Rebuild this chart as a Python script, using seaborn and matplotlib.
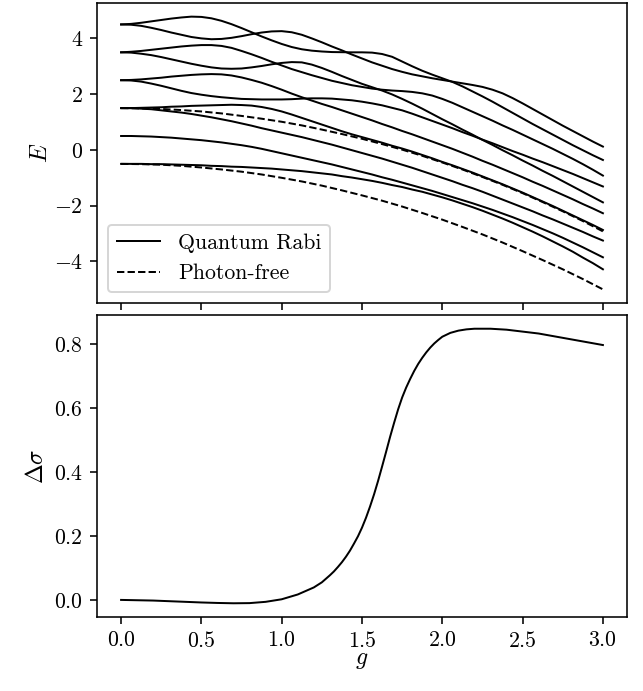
import numpy as np
import pandas as pd
import matplotlib
matplotlib.use("Agg")
import matplotlib.pyplot as plt
from matplotlib.lines import Line2D
import seaborn as sns

plt.rcParams.update({
    "font.family": "serif",
    "font.serif": ["cmr10"],
    "mathtext.fontset": "cm",
    "axes.formatter.use_mathtext": True,
    "font.size": 11,
    "axes.unicode_minus": True,
})

# ---------------- data ----------------
# photon-free curves, coarse grid
g_pf = [0.0, 0.125, 0.25, 0.375, 0.5, 0.625, 0.75, 0.875, 1.0, 1.125, 1.25, 1.375,
        1.5, 1.625, 1.75, 1.875, 2.0, 2.125, 2.25, 2.375, 2.5, 2.625, 2.75, 2.875, 3.0]
pf_lower = [-0.50, -0.51, -0.53, -0.57, -0.63, -0.70, -0.78, -0.88, -1.00, -1.13, -1.28, -1.45,
            -1.63, -1.82, -2.03, -2.26, -2.50, -2.76, -3.03, -3.32, -3.63, -3.95, -4.28, -4.63, -5.00]
pf_upper = [1.50, 1.49, 1.47, 1.43, 1.38, 1.31, 1.22, 1.12, 1.01, 0.88, 0.73, 0.57,
            0.40, 0.21, 0.01, -0.21, -0.45, -0.70, -0.97, -1.25, -1.55, -1.87, -2.20, -2.55, -2.92]

# quantum Rabi levels, fine grid (step 0.0625)
g_rabi = [0.0, 0.0625, 0.125, 0.1875, 0.25, 0.3125, 0.375, 0.4375, 0.5, 0.5625, 0.625, 0.6875,
          0.75, 0.8125, 0.875, 0.9375, 1.0, 1.0625, 1.125, 1.1875, 1.25, 1.3125, 1.375, 1.4375,
          1.5, 1.5625, 1.625, 1.6875, 1.75, 1.8125, 1.875, 1.9375, 2.0, 2.0625, 2.125, 2.1875,
          2.25, 2.3125, 2.375, 2.4375, 2.5, 2.5625, 2.625, 2.6875, 2.75, 2.8125, 2.875, 2.9375, 3.0]

E_ground = [-0.50, -0.50, -0.50, -0.51, -0.51, -0.52, -0.53, -0.54, -0.55, -0.57, -0.58, -0.60,
            -0.61, -0.63, -0.65, -0.67, -0.70, -0.73, -0.76, -0.80, -0.84, -0.88, -0.94, -0.99,
            -1.05, -1.11, -1.18, -1.26, -1.33, -1.42, -1.50, -1.60, -1.70, -1.81, -1.93, -2.05,
            -2.18, -2.32, -2.46, -2.61, -2.77, -2.93, -3.10, -3.28, -3.46, -3.65, -3.86, -4.06, -4.28]
E_second = [0.50, 0.50, 0.49, 0.48, 0.46, 0.44, 0.41, 0.38, 0.35, 0.31, 0.27, 0.22,
            0.17, 0.11, 0.04, -0.04, -0.12, -0.20, -0.28, -0.36, -0.44, -0.52, -0.61, -0.70,
            -0.79, -0.88, -0.98, -1.07, -1.17, -1.27, -1.37, -1.47, -1.58, -1.69, -1.80, -1.91,
            -2.03, -2.15, -2.28, -2.41, -2.55, -2.69, -2.84, -2.99, -3.15, -3.32, -3.49, -3.67, -3.85]
E_15_low = [1.50, 1.50, 1.48, 1.46, 1.42, 1.38, 1.34, 1.29, 1.23, 1.17, 1.10, 1.03,
            0.95, 0.87, 0.78, 0.70, 0.62, 0.54, 0.46, 0.37, 0.28, 0.19, 0.09, -0.01,
            -0.11, -0.21, -0.31, -0.42, -0.53, -0.64, -0.76, -0.88, -1.00, -1.12, -1.25, -1.37,
            -1.50, -1.64, -1.78, -1.92, -2.06, -2.20, -2.35, -2.49, -2.64, -2.79, -2.94, -3.10, -3.25]
E_15_up = [1.50, 1.50, 1.51, 1.52, 1.53, 1.55, 1.56, 1.58, 1.59, 1.60, 1.61, 1.62,
           1.61, 1.59, 1.54, 1.47, 1.38, 1.27, 1.15, 1.03, 0.91, 0.79, 0.67, 0.56,
           0.46, 0.36, 0.26, 0.15, 0.05, -0.06, -0.18, -0.30, -0.43, -0.55, -0.68, -0.81,
           -0.95, -1.09, -1.23, -1.38, -1.53, -1.69, -1.85, -2.01, -2.18, -2.35, -2.52, -2.69, -2.87]
E_25_low = [2.50, 2.49, 2.45, 2.38, 2.30, 2.21, 2.12, 2.04, 1.98, 1.93, 1.89, 1.86,
            1.83, 1.82, 1.81, 1.81, 1.81, 1.82, 1.84, 1.85, 1.85, 1.84, 1.81, 1.78,
            1.73, 1.67, 1.60, 1.51, 1.42, 1.30, 1.17, 1.04, 0.91, 0.78, 0.64, 0.51,
            0.37, 0.24, 0.10, -0.04, -0.17, -0.31, -0.44, -0.58, -0.72, -0.86, -1.01, -1.16, -1.31]
E_25_up = [2.50, 2.51, 2.53, 2.56, 2.59, 2.63, 2.66, 2.69, 2.71, 2.72, 2.71, 2.67,
           2.60, 2.51, 2.41, 2.29, 2.16, 2.02, 1.89, 1.77, 1.65, 1.54, 1.42, 1.30,
           1.18, 1.06, 0.93, 0.81, 0.68, 0.56, 0.43, 0.30, 0.17, 0.04, -0.10, -0.24,
           -0.39, -0.53, -0.68, -0.83, -0.98, -1.14, -1.29, -1.45, -1.61, -1.77, -1.94, -2.10, -2.27]
E_35_low = [3.50, 3.49, 3.45, 3.40, 3.33, 3.25, 3.17, 3.09, 3.02, 2.96, 2.92, 2.91,
            2.92, 2.96, 3.01, 3.07, 3.12, 3.15, 3.14, 3.06, 2.94, 2.80, 2.65, 2.51,
            2.37, 2.25, 2.13, 1.99, 1.83, 1.66, 1.48, 1.29, 1.10, 0.92, 0.73, 0.55,
            0.36, 0.18, -0.01, -0.19, -0.38, -0.56, -0.75, -0.93, -1.12, -1.31, -1.50, -1.69, -1.88]
E_35_up = [3.50, 3.52, 3.55, 3.59, 3.63, 3.67, 3.71, 3.74, 3.76, 3.76, 3.73, 3.66,
           3.55, 3.43, 3.30, 3.16, 3.03, 2.90, 2.79, 2.68, 2.58, 2.48, 2.40, 2.32,
           2.26, 2.20, 2.16, 2.13, 2.11, 2.08, 2.03, 1.95, 1.83, 1.69, 1.53, 1.37,
           1.21, 1.05, 0.88, 0.72, 0.55, 0.38, 0.21, 0.04, -0.14, -0.32, -0.51, -0.71, -0.92]
E_45_low = [4.50, 4.49, 4.45, 4.38, 4.30, 4.21, 4.13, 4.05, 4.00, 3.97, 3.98, 4.02,
            4.08, 4.15, 4.21, 4.25, 4.26, 4.22, 4.13, 4.00, 3.86, 3.71, 3.57, 3.42,
            3.28, 3.14, 3.02, 2.90, 2.80, 2.71, 2.64, 2.57, 2.51, 2.45, 2.39, 2.33,
            2.26, 2.16, 2.03, 1.86, 1.67, 1.47, 1.27, 1.07, 0.87, 0.68, 0.49, 0.30, 0.12]
E_45_up = [4.50, 4.52, 4.56, 4.61, 4.66, 4.71, 4.75, 4.78, 4.77, 4.72, 4.63, 4.51,
           4.37, 4.22, 4.07, 3.93, 3.80, 3.69, 3.61, 3.56, 3.53, 3.51, 3.505, 3.50,
           3.50, 3.49, 3.44, 3.34, 3.17, 3.00, 2.84, 2.70, 2.57, 2.44, 2.28, 2.10,
           1.92, 1.73, 1.53, 1.33, 1.13, 0.93, 0.74, 0.55, 0.36, 0.17, -0.01, -0.19, -0.36]

g_bottom = [0.0, 0.1, 0.2, 0.3, 0.4, 0.5, 0.6, 0.7, 0.8, 0.9, 1.0, 1.1, 1.2, 1.25,
            1.3, 1.325, 1.35, 1.375, 1.4, 1.425, 1.45, 1.475, 1.5, 1.525, 1.55, 1.575,
            1.6, 1.625, 1.65, 1.675, 1.7, 1.725, 1.75, 1.775, 1.8, 1.825, 1.85, 1.875,
            1.9, 1.925, 1.95, 1.975, 2.0, 2.05, 2.1, 2.15, 2.2,
            2.3, 2.4, 2.5, 2.6, 2.7, 2.8, 2.9, 3.0]
delta_sigma = [0.000, -0.001, -0.002, -0.004, -0.006, -0.008, -0.0095, -0.0105, -0.010, -0.006, 0.002, 0.017, 0.039, 0.055,
               0.077, 0.089, 0.103, 0.118, 0.135, 0.154, 0.176, 0.199, 0.226, 0.257, 0.292, 0.330,
               0.372, 0.417, 0.463, 0.510, 0.554, 0.596, 0.633, 0.664, 0.691, 0.716, 0.738, 0.757,
               0.774, 0.789, 0.802, 0.813, 0.823, 0.835, 0.842, 0.846, 0.848,
               0.848, 0.845, 0.839, 0.833, 0.824, 0.815, 0.806, 0.797]

rabi_curves = [E_ground, E_second, E_15_low, E_15_up, E_25_low, E_25_up,
               E_35_low, E_35_up, E_45_low, E_45_up]
pf_curves = [pf_lower, pf_upper]

# ---------------- figure ----------------
DPI = 143
fig = plt.figure(figsize=(643 / DPI, 691 / DPI), dpi=DPI)
W, H = 643.0, 691.0
ax1 = fig.add_axes([97 / W, 1 - 303 / H, 530 / W, 300 / H])
ax2 = fig.add_axes([97 / W, 1 - 617 / H, 530 / W, 302 / H], sharex=ax1)

LW = 1.0
for vals in rabi_curves:
    sns.lineplot(x=g_rabi, y=vals, ax=ax1, color="black", lw=LW, estimator=None, sort=False)
for vals in pf_curves:
    sns.lineplot(x=g_pf, y=vals, ax=ax1, color="black", lw=LW, linestyle="--",
                 estimator=None, sort=False)

sns.lineplot(x=g_bottom, y=delta_sigma, ax=ax2, color="black", lw=LW, estimator=None, sort=False)

ax1.set_ylabel(r"$E$", fontsize=12, labelpad=1)
ax2.set_ylabel(r"$\Delta\sigma$", fontsize=12, labelpad=3)
ax2.set_xlabel(r"$g$", fontsize=12, labelpad=-1)
ax1.tick_params(labelbottom=False)
ax2.set_xticks([0.0, 0.5, 1.0, 1.5, 2.0, 2.5, 3.0])
ax1.set_yticks([-4, -2, 0, 2, 4])
ax2.set_yticks([0.0, 0.2, 0.4, 0.6, 0.8])

handles = [Line2D([], [], color="black", lw=LW, linestyle="-"),
           Line2D([], [], color="black", lw=LW, linestyle="--")]
ax1.legend(handles, ["Quantum Rabi", "Photon-free"], loc="lower left", fontsize=11)

fig.savefig("out.png", dpi=DPI)
